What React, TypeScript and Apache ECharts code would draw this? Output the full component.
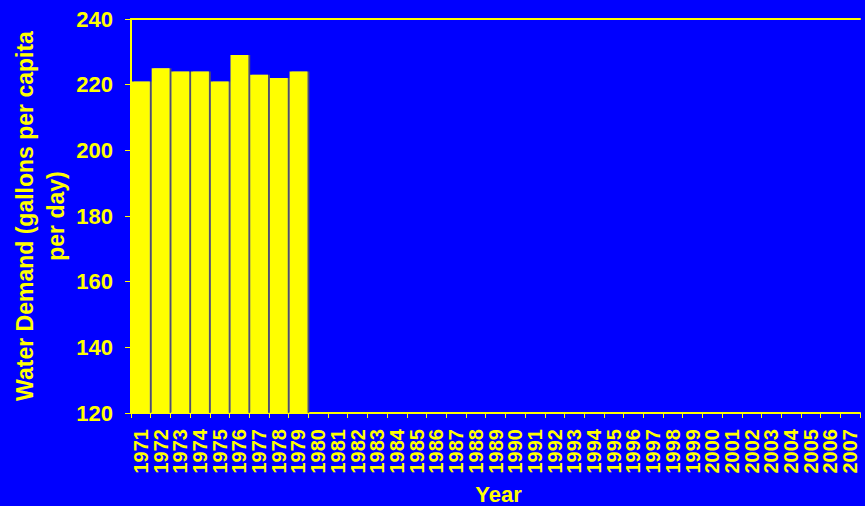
import React, { useEffect, useRef } from "react";
import * as echarts from "echarts";

const years: string[] = [];
for (let y = 1971; y <= 2007; y++) years.push(String(y));
const demand: (number | null)[] = [221, 225, 224, 224, 221, 229, 223, 222, 224];
const yMin = 120;
const yMax = 240;
const yStep = 20;

const YELLOW = "#FFFF00";
const BLUE = "#0000FF";

export default function App() {
  const ref = useRef<HTMLDivElement>(null);
  useEffect(() => {
    const chart = echarts.init(ref.current!, undefined, { renderer: "svg" });
    const data = years.map((_, i) => (i < demand.length ? demand[i] : null));
    chart.setOption({
      animation: false,
      backgroundColor: BLUE,
      textStyle: { fontFamily: "Liberation Sans, Arial, sans-serif" },
      grid: {
        left: 131,
        top: 19,
        bottom: 93,
        right: 5,
        containLabel: false,
        outerBoundsMode: "none",
        show: false,
      },
      xAxis: [
        {
          type: "category",
          data: years,
          name: "Year",
          nameLocation: "middle",
          nameGap: 70,
          nameMoveOverlap: false,
          nameTextStyle: { color: YELLOW, fontWeight: "bold", fontSize: 22, padding: [0, 0, 0, 6] },
          axisLine: { lineStyle: { color: YELLOW, width: 2 } },
          axisTick: { show: true, length: 5, lineStyle: { color: YELLOW, width: 1 }, alignWithLabel: false },
          axisLabel: {
            interval: 0,
            rotate: 90,
            color: YELLOW,
            fontWeight: "bold",
            fontFamily: "Liberation Sans Narrow, Arial Narrow, Liberation Sans, sans-serif",
            fontSize: 20,
            margin: 16,
          },
        },
        {
          type: "category",
          data: years,
          position: "top",
          axisLine: { show: true, lineStyle: { color: YELLOW, width: 2 } },
          axisTick: { show: false },
          axisLabel: { show: false },
        },
      ],
      yAxis: {
        type: "value",
        min: yMin,
        max: yMax,
        interval: yStep,
        name: "Water Demand (gallons per capita\nper day)",
        nameLocation: "middle",
        nameRotate: 90,
        nameGap: 60,
        nameMoveOverlap: false,
        nameTextStyle: { color: YELLOW, fontWeight: "bold", fontSize: 23, lineHeight: 31, align: "center" },
        axisLine: { show: true, lineStyle: { color: YELLOW, width: 2 } },
        axisTick: { show: true, length: 6, lineStyle: { color: YELLOW, width: 1 } },
        axisLabel: { color: YELLOW, fontWeight: "bold", fontSize: 22, margin: 18 },
        splitLine: { show: false },
      },
      series: [
        {
          type: "bar",
          data,
          barCategoryGap: "10%",
          itemStyle: {
            color: YELLOW,
            shadowColor: "rgba(90,90,90,0.9)",
            shadowOffsetX: 2,
            shadowOffsetY: 0,
            shadowBlur: 0,
          },
        },
      ],
    });
    return () => chart.dispose();
  }, []);
  return (
    <div
      ref={ref}
      style={{ position: "absolute", left: 0, top: 0, width: 865, height: 506 }}
    />
  );
}
